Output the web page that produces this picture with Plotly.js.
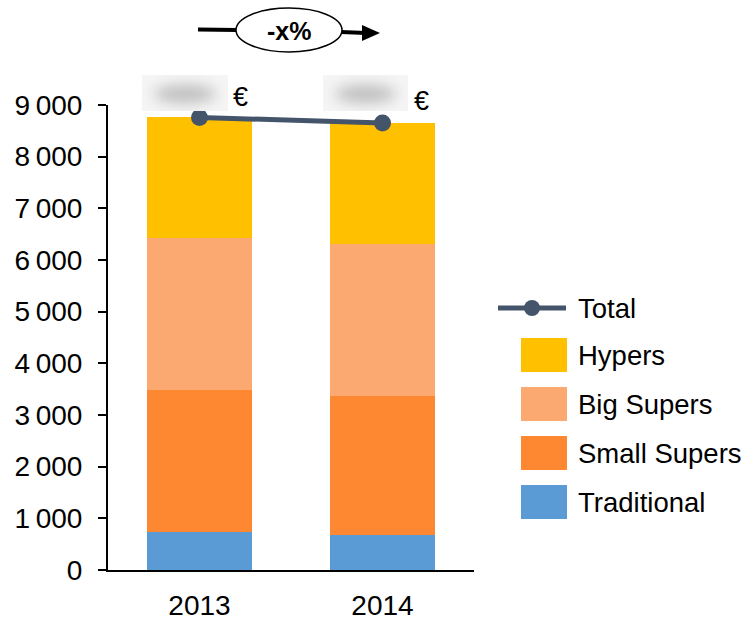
<!DOCTYPE html>
<html>
<head>
<meta charset="utf-8">
<script src="https://cdn.plot.ly/plotly-3.0.1.min.js"></script>
<style>
  body { margin:0; padding:0; background:#fff; }
  #wrap { position:relative; width:746px; height:622px; }
  #chart { position:absolute; left:0; top:0; width:746px; height:622px; }
  .blur { position:absolute; background:#f5f5f5; overflow:hidden; pointer-events:none; }
  .blur::after { content:''; position:absolute; left:14%; right:14%; top:28%; bottom:22%;
    background:#bdbdbd; border-radius:50%; filter:blur(7px); }
</style>
</head>
<body>
<div id="wrap">
  <div id="chart"></div>
  <div class="blur" style="left:142px;top:75px;width:86px;height:36px;"></div>
  <div class="blur" style="left:323px;top:75px;width:85px;height:36px;"></div>
</div>
<script>
// ---- data ----
const years = ["2013", "2014"];
const traditional = [740, 680];
const smallSupers = [2745, 2690];
const bigSupers = [2945, 2940];
const hypers = [2330, 2340];
const total = [8760, 8650];
const seriesNames = ["Total", "Hypers", "Big Supers", "Small Supers", "Traditional"];
const yTickVals = [0, 1000, 2000, 3000, 4000, 5000, 6000, 7000, 8000, 9000];
const yTickText = ["0", "1\u202F000", "2\u202F000", "3\u202F000", "4\u202F000", "5\u202F000", "6\u202F000", "7\u202F000", "8\u202F000", "9\u202F000"];
const changeLabel = "-x%";
const currency = "€";

// ---- style ----
const colors = {
  "Total": "#44546A",
  "Hypers": "#FFC000",
  "Big Supers": "#FBA970",
  "Small Supers": "#FE8731",
  "Traditional": "#5B9BD5"
};
const W = 746, H = 622;
const L = 108, R = 474, T = 105, B = 570;
const px = v => (v - L) / (R - L);
const py = v => (B - v) / (B - T);
const FONT = "Liberation Sans, Arial, sans-serif";

const barW = 0.57;
function bar(name, vals) {
  return { type: "bar", name: name, x: years, y: vals, width: barW,
    marker: { color: colors[name], line: { width: 0 } }, showlegend: false, hoverinfo: "y+name" };
}
const traces = [
  bar("Traditional", traditional),
  bar("Small Supers", smallSupers),
  bar("Big Supers", bigSupers),
  bar("Hypers", hypers),
  { type: "scatter", mode: "lines+markers", name: "Total", x: years, y: total,
    line: { color: colors["Total"], width: 5 }, marker: { color: colors["Total"], size: 17 },
    showlegend: false, cliponaxis: false }
];

const shapes = [];
const annotations = [];

// custom legend
const legendTextX = 576;
// Total line entry
shapes.push({ type: "line", xref: "paper", yref: "paper", x0: px(498), x1: px(566), y0: py(308), y1: py(308),
  line: { color: colors["Total"], width: 5 } });
shapes.push({ type: "circle", xref: "paper", yref: "paper", x0: px(524), x1: px(540), y0: py(300), y1: py(316),
  fillcolor: colors["Total"], line: { color: colors["Total"], width: 0 } });
annotations.push({ xref: "paper", yref: "paper", x: px(legendTextX), y: py(308), text: seriesNames[0],
  showarrow: false, xanchor: "left", yanchor: "middle", font: { family: FONT, size: 27.5, color: "#000" } });
const boxTops = [338, 387, 436, 485];
for (let i = 1; i < seriesNames.length; i++) {
  const t = boxTops[i - 1];
  shapes.push({ type: "rect", xref: "paper", yref: "paper", x0: px(521), x1: px(567), y0: py(t + 34), y1: py(t),
    fillcolor: colors[seriesNames[i]], line: { width: 0 } });
  annotations.push({ xref: "paper", yref: "paper", x: px(legendTextX), y: py(t + 17), text: seriesNames[i],
    showarrow: false, xanchor: "left", yanchor: "middle", font: { family: FONT, size: 27.5, color: "#000" } });
}

// top change arrow
shapes.push({ type: "line", xref: "paper", yref: "paper", x0: px(198), x1: px(237), y0: py(29.5), y1: py(30),
  line: { color: "#000", width: 4 } });
shapes.push({ type: "line", xref: "paper", yref: "paper", x0: px(341), x1: px(366), y0: py(32), y1: py(33),
  line: { color: "#000", width: 4 } });
shapes.push({ type: "path", xref: "paper", yref: "paper",
  path: `M ${px(362)} ${py(25)} L ${px(380)} ${py(33)} L ${px(362)} ${py(41)} Z`,
  fillcolor: "#000", line: { color: "#000", width: 0 } });
shapes.push({ type: "circle", xref: "paper", yref: "paper", x0: px(236), x1: px(342), y0: py(52), y1: py(8),
  fillcolor: "#fff", line: { color: "#000", width: 1.5 } });
annotations.push({ xref: "paper", yref: "paper", x: px(289), y: py(31), text: "<b>" + changeLabel + "</b>",
  showarrow: false, xanchor: "center", yanchor: "middle", font: { family: FONT, size: 25, color: "#000" } });

// euro signs next to the blurred totals
annotations.push({ xref: "paper", yref: "paper", x: px(240), y: py(97), text: currency,
  showarrow: false, xanchor: "center", yanchor: "middle", font: { family: FONT, size: 27, color: "#000" } });
annotations.push({ xref: "paper", yref: "paper", x: px(421), y: py(101), text: currency,
  showarrow: false, xanchor: "center", yanchor: "middle", font: { family: FONT, size: 27, color: "#000" } });

const layout = {
  width: W, height: H,
  margin: { l: L, r: W - R, t: T, b: H - B, pad: 0 },
  paper_bgcolor: "#fff", plot_bgcolor: "#fff",
  barmode: "stack",
  showlegend: false,
  font: { family: FONT, size: 28, color: "#000" },
  xaxis: { type: "category", range: [-0.5, 1.5], showline: true, linecolor: "#000", linewidth: 2,
    ticks: "", showgrid: false, zeroline: false, ticklabelstandoff: 9,
    tickfont: { family: FONT, size: 28, color: "#000" }, fixedrange: true },
  yaxis: { range: [0, 9000], tickvals: yTickVals, ticktext: yTickText, showline: true, linecolor: "#000",
    linewidth: 2, ticks: "outside", ticklen: 8, tickwidth: 2, tickcolor: "#000", showgrid: false,
    zeroline: false, ticklabelstandoff: 10, tickfont: { family: FONT, size: 28, color: "#000" }, fixedrange: true },
  shapes: shapes,
  annotations: annotations
};

Plotly.newPlot("chart", traces, layout, { displayModeBar: false, staticPlot: true });
</script>
</body>
</html>
